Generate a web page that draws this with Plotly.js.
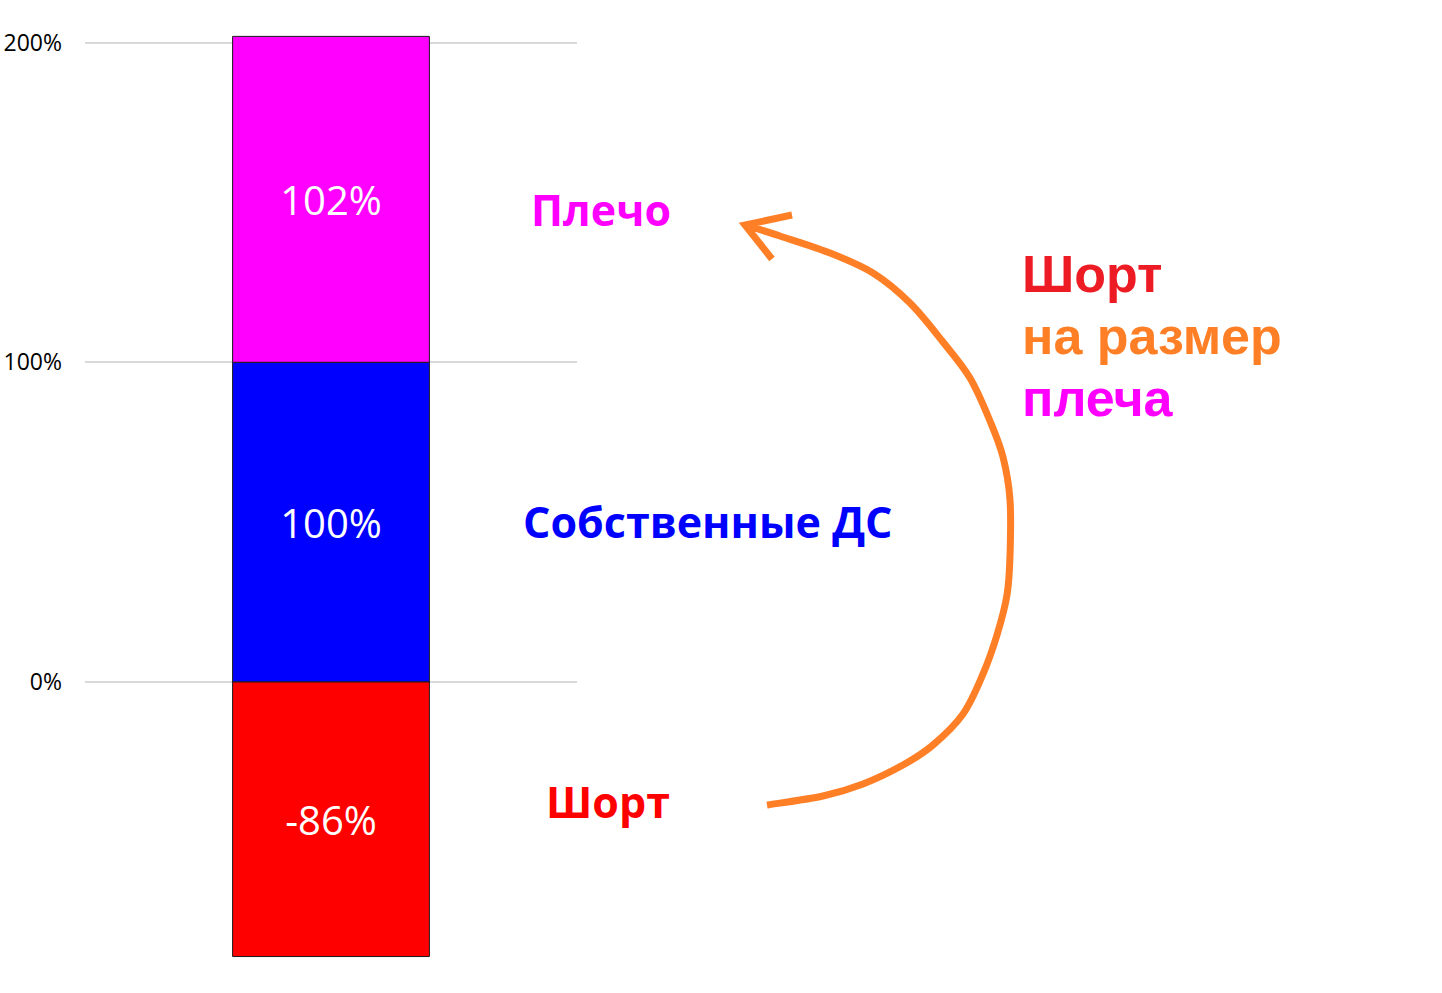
<!DOCTYPE html>
<html>
<head>
<meta charset="utf-8">
<script src="https://cdn.plot.ly/plotly-3.0.1.min.js"></script>
<style>
  html, body { margin: 0; padding: 0; background: #fff; }
  #chart { width: 1442px; height: 993px; }
</style>
</head>
<body>
<div id="chart"></div>
<script>
/* data */
const categories = ["Позиция"];
const seriesNames = ["Шорт", "Собственные ДС", "Плечо"];
const shortValues = [-86];
const ownValues = [100];
const leverageValues = [102];
const seriesColors = ["#ff0000", "#0000ff", "#ff00ff"];

const noteLines = ["Шорт", "на размер", "плеча"];
const noteColors = ["#ed1c24", "#ff7f27", "#ff00ff"];

/* page geometry (pixels) */
const W = 1442, H = 993;
const M = { l: 85, r: 865, t: 30, b: 27 };
const pw = W - M.l - M.r;
const ph = H - M.t - M.b;
const px = (x) => (x - M.l) / pw;
const py = (y) => (H - M.b - y) / ph;

const pct = (arr) => arr.map((v) => v + "%");

const barTrace = (name, values, color) => ({
  type: "bar",
  name: name,
  x: categories,
  y: values,
  width: 0.4,
  text: pct(values),
  texttemplate: "%{text}",
  textposition: "inside",
  insidetextanchor: "middle",
  textangle: 0,
  textfont: { family: "Open Sans", size: 40, color: "#ffffff" },
  marker: { color: color, line: { color: "#1a1a1a", width: 1 } },
  hoverinfo: "skip",
});

const data = [
  barTrace(seriesNames[0], shortValues, seriesColors[0]),
  barTrace(seriesNames[1], ownValues, seriesColors[1]),
  barTrace(seriesNames[2], leverageValues, seriesColors[2]),
];

// hand drawn arrow (pixel points, bottom -> tip), smoothed as catmull-rom
const arc = [
  [767, 805], [823, 796], [863, 784], [903, 765], [933, 745], [963, 714],
  [983, 674], [997, 635], [1007, 595], [1010, 556], [1010, 500], [1003, 457],
  [990, 421], [970, 378], [943, 342], [910, 303], [873, 273], [830, 253],
  [780, 236], [745, 225],
];
const P = (p) => `${px(p[0])},${py(p[1])}`;
let arrowPath = "M " + P(arc[0]);
for (let i = 0; i < arc.length - 1; i++) {
  const p0 = arc[Math.max(i - 1, 0)], p1 = arc[i], p2 = arc[i + 1];
  const p3 = arc[Math.min(i + 2, arc.length - 1)];
  const c1 = [p1[0] + (p2[0] - p0[0]) / 6, p1[1] + (p2[1] - p0[1]) / 6];
  const c2 = [p2[0] - (p3[0] - p1[0]) / 6, p2[1] - (p3[1] - p1[1]) / 6];
  arrowPath += ` C ${P(c1)} ${P(c2)} ${P(p2)}`;
}
arrowPath += ` M ${P([792, 215])} L ${P([745, 225])} L ${P([772, 259])}`;

const sideLabel = (text, color, x, y) => ({
  xref: "paper", yref: "paper",
  x: px(x), y: py(y),
  xanchor: "center", yanchor: "middle",
  text: text,
  showarrow: false,
  font: { family: "Open Sans", size: 43, weight: 700, color: color },
});

const annotations = [
  sideLabel(seriesNames[2], seriesColors[2], 601, 210),
  sideLabel(seriesNames[1], seriesColors[1], 707, 521),
  sideLabel(seriesNames[0], seriesColors[0], 608, 801),
];

[274, 336, 398].forEach((y, i) => {
  annotations.push({
    xref: "paper", yref: "paper",
    x: px(1020), y: py(y),
    xanchor: "left", yanchor: "middle",
    text: noteLines[i],
    showarrow: false,
    font: { family: "Liberation Sans", size: 52, weight: 700, color: noteColors[i] },
  });
});

const layout = {
  width: W,
  height: H,
  margin: M,
  barmode: "relative",
  showlegend: false,
  paper_bgcolor: "#ffffff",
  plot_bgcolor: "#ffffff",
  xaxis: { visible: false, range: [-0.5, 0.5], fixedrange: true },
  yaxis: {
    range: [-88.96, 204.0],
    dtick: 100,
    ticksuffix: "%",
    ticks: "",
    ticklabelstandoff: 22,
    showgrid: true,
    gridcolor: "#d9d9d9",
    gridwidth: 1.8,
    zeroline: false,
    showline: false,
    tickfont: { family: "Open Sans", size: 23, color: "#000000" },
    fixedrange: true,
  },
  shapes: [
    {
      type: "path",
      xref: "paper", yref: "paper",
      path: arrowPath,
      line: { color: "#ff7f27", width: 7 },
      fillcolor: "rgba(0,0,0,0)",
    },
  ],
  annotations: annotations,
};

Plotly.newPlot("chart", data, layout, { displayModeBar: false, staticPlot: true });
</script>
</body>
</html>
